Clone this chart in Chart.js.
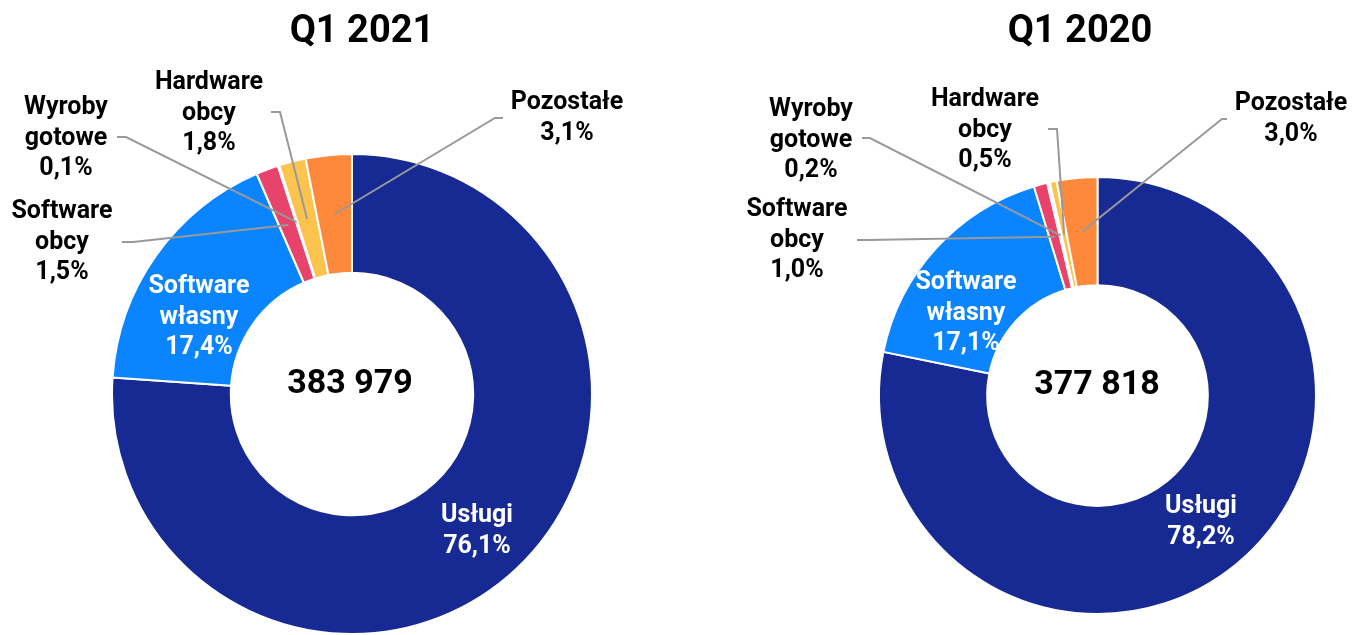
<!DOCTYPE html>
<html>
<head>
<meta charset="utf-8">
<script src="https://cdn.jsdelivr.net/npm/chart.js@4"></script>
<style>
  html, body { margin: 0; padding: 0; background: #fff; }
  #wrap { position: relative; width: 1353px; height: 635px; }
  #wrap canvas { position: absolute; left: 0; top: 0; }
</style>
</head>
<body>
<div id="wrap">
  <canvas id="c2021" width="1353" height="635"></canvas>
  <canvas id="c2020" width="1353" height="635"></canvas>
</div>
<script>
// data
const categories = ["Usługi", "Software własny", "Software obcy", "Wyroby gotowe", "Hardware obcy", "Pozostałe"];
const shares2021 = [76.1, 17.4, 1.5, 0.1, 1.8, 3.1];
const shares2020 = [78.2, 17.1, 1.0, 0.2, 0.5, 3.0];
const totals = ["383 979", "377 818"];
const titles = ["Q1 2021", "Q1 2020"];

const colors = ["#172A93", "#0A85FF", "#E8436A", "#F4F4F4", "#FCC44E", "#FF893A"];
const FONT = "Roboto, 'Open Sans', sans-serif";

// label placement (centre x, first line y) and leader lines [startX, startY, elbowX]
const layout2021 = {
  title: [362, 32],
  total: [350, 384],
  labelPos: [[477, 516], [199, 287], [62, 212], [66, 108], [209, 83], [567, 103]],
  leaders: [null, null, [122, 242, 133], [117, 137, 126], [271, 112, 280], [503, 118, 495]],
  padding: { top: 153, bottom: 0, left: 111, right: 760 }
};
const layout2020 = {
  title: [1080, 32],
  total: [1097, 385],
  labelPos: [[1201, 507], [966, 283], [797, 210], [811, 110], [985, 100], [1291, 104]],
  leaders: [null, null, [857, 240, 868], [862, 138, 870], [1048, 129, 1057], [1227, 119, 1222]],
  padding: { top: 176, bottom: 20, left: 878, right: 36 }
};

function pct(v) {
  return v.toFixed(1).replace(".", ",") + "%";
}

const calloutPlugin = {
  id: "callouts",
  afterDraw(chart, args, opts) {
    const ctx = chart.ctx;
    const meta = chart.getDatasetMeta(0);
    const values = chart.data.datasets[0].data;
    const lay = opts.layout;
    ctx.save();

    // title
    ctx.fillStyle = "#000";
    ctx.textAlign = "center";
    ctx.textBaseline = "middle";
    ctx.font = "bold 38px " + FONT;
    ctx.fillText(opts.title, lay.title[0], lay.title[1]);

    // total in the middle
    ctx.font = "bold 34px " + FONT;
    ctx.fillText(opts.total, lay.total[0], lay.total[1]);

    // leader lines
    ctx.strokeStyle = "#999999";
    ctx.lineWidth = 2;
    meta.data.forEach((arc, i) => {
      const ld = lay.leaders[i];
      if (!ld) return;
      const p = arc.getProps(["x", "y", "startAngle", "endAngle", "innerRadius", "outerRadius"], true);
      const a = (p.startAngle + p.endAngle) / 2;
      const r = (p.innerRadius + p.outerRadius) / 2;
      ctx.beginPath();
      ctx.moveTo(ld[0], ld[1]);
      ctx.lineTo(ld[2], ld[1]);
      ctx.lineTo(p.x + Math.cos(a) * r, p.y + Math.sin(a) * r);
      ctx.stroke();
    });

    // labels
    ctx.font = "bold 25px " + FONT;
    categories.forEach((name, i) => {
      const lines = name.split(" ").concat([pct(values[i])]);
      const [x, y] = lay.labelPos[i];
      ctx.fillStyle = i < 2 ? "#fff" : "#000";
      lines.forEach((t, k) => ctx.fillText(t, x, y + k * 30.5));
    });
    ctx.restore();
  }
};

function makeChart(id, values, title, total, lay) {
  return new Chart(document.getElementById(id), {
    type: "doughnut",
    data: {
      labels: categories,
      datasets: [{
        data: values,
        backgroundColor: colors,
        borderColor: "#fff",
        borderWidth: 2
      }]
    },
    options: {
      responsive: false,
      animation: false,
      cutout: "50.5%",
      layout: { padding: lay.padding },
      events: [],
      plugins: {
        legend: { display: false },
        tooltip: { enabled: false },
        callouts: { title: title, total: total, layout: lay }
      }
    },
    plugins: [calloutPlugin]
  });
}

makeChart("c2021", shares2021, titles[0], totals[0], layout2021);
makeChart("c2020", shares2020, titles[1], totals[1], layout2020);
</script>
</body>
</html>
